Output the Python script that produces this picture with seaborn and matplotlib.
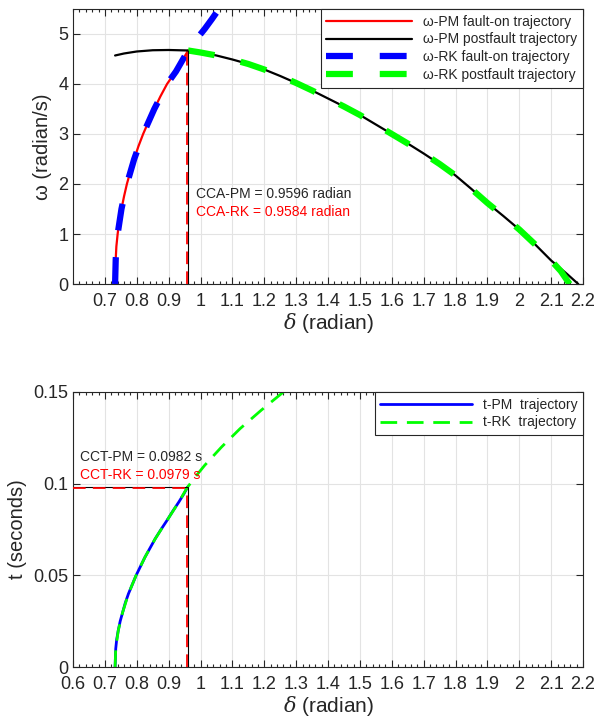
import numpy as np
import pandas as pd
import seaborn as sns
import matplotlib.pyplot as plt
from matplotlib.ticker import MultipleLocator

# --- data ---
# omega-delta plane, PM fault-on trajectory (red)
d_pm_fault = [0.732, 0.733, 0.734, 0.736, 0.740, 0.745, 0.752, 0.760, 0.769, 0.780,
              0.792, 0.805, 0.820, 0.837, 0.855, 0.874, 0.895, 0.908, 0.923, 0.941, 0.961]
w_pm_fault = [0.0, 0.25, 0.5, 0.75, 1.0, 1.25, 1.5, 1.75, 2.0, 2.25,
              2.5, 2.75, 3.0, 3.25, 3.5, 3.75, 4.0, 4.12, 4.25, 4.45, 4.67]

# PM postfault trajectory (black)
d_pm_post = [0.732, 0.76, 0.80, 0.85, 0.90, 0.961, 1.0, 1.05, 1.1, 1.15, 1.2, 1.25,
             1.3, 1.35, 1.4, 1.45, 1.5, 1.55, 1.6, 1.65, 1.7, 1.75, 1.8, 1.85,
             1.9, 1.95, 2.0, 2.05, 2.1, 2.15, 2.185]
w_pm_post = [4.57, 4.61, 4.65, 4.675, 4.68, 4.67, 4.63, 4.57, 4.49, 4.40, 4.29, 4.16,
             4.02, 3.87, 3.71, 3.55, 3.38, 3.19, 3.0, 2.81, 2.61, 2.40, 2.17, 1.90,
             1.62, 1.36, 1.09, 0.79, 0.47, 0.20, 0.0]

# RK fault-on trajectory (blue, runs on past the clearing angle)
d_rk_fault = [0.732, 0.734, 0.740, 0.752, 0.769, 0.792, 0.820, 0.855, 0.895, 0.923,
              0.961, 0.985, 1.013, 1.036, 1.06]
w_rk_fault = [0.0, 0.5, 1.0, 1.5, 2.0, 2.5, 3.0, 3.5, 4.0, 4.25,
              4.67, 4.88, 5.10, 5.30, 5.52]

# RK postfault trajectory (green)
d_rk_post = [0.961, 1.0, 1.05, 1.1, 1.15, 1.2, 1.25, 1.3, 1.35, 1.4, 1.45, 1.5,
             1.55, 1.6, 1.65, 1.7, 1.75, 1.8, 1.85, 1.9, 1.95, 2.0, 2.05, 2.1,
             2.13, 2.158]
w_rk_post = [4.67, 4.63, 4.57, 4.49, 4.40, 4.29, 4.16, 4.02, 3.87, 3.71, 3.55, 3.38,
             3.19, 3.0, 2.81, 2.61, 2.40, 2.17, 1.90, 1.62, 1.36, 1.09, 0.79, 0.47,
             0.26, 0.0]

# t-delta plane
d_t_pm = [0.732, 0.733, 0.734, 0.737, 0.742, 0.748, 0.756, 0.764, 0.774, 0.786,
          0.798, 0.812, 0.826, 0.842, 0.858, 0.876, 0.895, 0.913, 0.932, 0.948, 0.9596]
t_pm = [0.0, 0.005, 0.01, 0.015, 0.02, 0.025, 0.03, 0.035, 0.04, 0.045,
        0.05, 0.055, 0.06, 0.065, 0.07, 0.075, 0.08, 0.085, 0.09, 0.0945, 0.0982]
d_t_rk = [0.732, 0.734, 0.742, 0.756, 0.774, 0.798, 0.826, 0.858, 0.895, 0.932,
          0.9584, 0.985, 1.013, 1.066, 1.124, 1.19, 1.26]
t_rk = [0.0, 0.01, 0.02, 0.03, 0.04, 0.05, 0.06, 0.07, 0.08, 0.09,
        0.0979, 0.104, 0.11, 0.12, 0.13, 0.14, 0.15]

cca_pm, cca_rk = 0.9596, 0.9584
w_at_cca = 4.67
cct_pm, cct_rk = 0.0982, 0.0979

top_xticks = [0.7, 0.8, 0.9, 1.0, 1.1, 1.2, 1.3, 1.4, 1.5, 1.6, 1.7, 1.8, 1.9, 2.0, 2.1, 2.2]
top_xlabels = ["0.7", "0.8", "0.9", "1", "1.1", "1.2", "1.3", "1.4", "1.5", "1.6",
               "1.7", "1.8", "1.9", "2", "2.1", "2.2"]
bot_xticks = [0.6] + top_xticks
bot_xlabels = ["0.6"] + top_xlabels
top_yticks = [0, 1, 2, 3, 4, 5]
bot_yticks = [0, 0.05, 0.1, 0.15]
bot_ylabels = ["0", "0.05", "0.1", "0.15"]

# --- style ---
sns.set_style("ticks")
plt.rcParams['font.family'] = ['Liberation Sans', 'DejaVu Sans']
plt.rcParams['mathtext.fontset'] = 'dejavuserif'
grey = '#262626'

fig = plt.figure(figsize=(5.97, 7.19), dpi=100)
ax1 = fig.add_axes([0.1223, 0.605, 0.8543, 0.3825])
ax2 = fig.add_axes([0.1223, 0.0723, 0.8543, 0.3825])


def style_axes(ax):
    ax.xaxis.set_minor_locator(MultipleLocator(0.02))
    ax.tick_params(which='both', direction='in', top=True, right=True,
                   colors=grey, labelsize=13, width=0.8)
    ax.tick_params(which='major', length=5)
    ax.tick_params(which='minor', length=2.5)
    ax.tick_params(axis='x', which='major', pad=6.5)
    ax.tick_params(axis='y', which='minor', left=False, right=False)
    ax.grid(True, which='major', color='#e3e3e3', lw=0.8)
    ax.set_axisbelow(True)
    for sp in ax.spines.values():
        sp.set_color(grey)
        sp.set_linewidth(0.8)


# --- top panel: omega vs delta ---
sns.lineplot(x=d_pm_fault, y=w_pm_fault, sort=False, estimator=None, ax=ax1,
             color='red', lw=1.6, label='ω-PM fault-on trajectory')
sns.lineplot(x=d_pm_post, y=w_pm_post, sort=False, estimator=None, ax=ax1,
             color='black', lw=1.6, label='ω-PM postfault trajectory')
sns.lineplot(x=d_rk_fault, y=w_rk_fault, sort=False, estimator=None, ax=ax1,
             color='blue', lw=4.5, linestyle=(0, (4.3, 4.3)),
             label='ω-RK fault-on trajectory')
sns.lineplot(x=d_rk_post, y=w_rk_post, sort=False, estimator=None, ax=ax1,
             color='#00ff00', lw=4.5, linestyle=(0, (4.3, 4.3)),
             label='ω-RK postfault trajectory')
ax1.vlines(cca_pm, 0, w_at_cca, color='black', lw=0.8, zorder=3)
ax1.vlines(cca_rk, 0, w_at_cca, color='red', lw=1.3, linestyles=(0, (7, 4)), zorder=3)
ax1.text(0.986, 1.80, f'CCA-PM = {cca_pm:.4f} radian', color=grey, fontsize=10, va='center')
ax1.text(0.986, 1.45, f'CCA-RK = {cca_rk:.4f} radian', color='red', fontsize=10, va='center')

ax1.set_xlim(0.6, 2.2)
ax1.set_ylim(0, 5.5)
ax1.set_xticks(top_xticks)
ax1.set_xticklabels(top_xlabels)
ax1.set_yticks(top_yticks)
style_axes(ax1)
ax1.set_xlabel(r'$\delta$ (radian)', fontsize=15, color=grey, labelpad=1)
ax1.set_ylabel('ω (radian/s)', fontsize=14.5, color=grey)
leg1 = ax1.legend(loc='upper right', borderaxespad=0, fontsize=10, handlelength=6.2,
                  labelspacing=0.28, fancybox=False, framealpha=1, edgecolor=grey)
leg1.get_frame().set_linewidth(0.8)

# --- bottom panel: t vs delta ---
sns.lineplot(x=d_t_pm, y=t_pm, sort=False, estimator=None, ax=ax2,
             color='blue', lw=2, label='t-PM  trajectory')
sns.lineplot(x=d_t_rk, y=t_rk, sort=False, estimator=None, ax=ax2,
             color='#00ff00', lw=2, linestyle=(0, (6, 3.5)), label='t-RK  trajectory')
ax2.vlines(cca_pm, 0, cct_pm, color='black', lw=0.8, zorder=3)
ax2.hlines(cct_pm, 0.6, cca_pm, color='black', lw=0.8, zorder=3)
ax2.vlines(cca_rk, 0, cct_rk, color='red', lw=1.3, linestyles=(0, (7, 4)), zorder=3)
ax2.hlines(cct_rk, 0.6, cca_rk, color='red', lw=1.3, linestyles=(0, (7, 4)), zorder=3)
ax2.text(0.622, 0.1143, f'CCT-PM = {cct_pm:.4f} s', color=grey, fontsize=10, va='center')
ax2.text(0.622, 0.1047, f'CCT-RK = {cct_rk:.4f} s', color='red', fontsize=10, va='center')

ax2.set_xlim(0.6, 2.2)
ax2.set_ylim(0, 0.15)
ax2.set_xticks(bot_xticks)
ax2.set_xticklabels(bot_xlabels)
ax2.set_yticks(bot_yticks)
ax2.set_yticklabels(bot_ylabels)
style_axes(ax2)
ax2.set_xlabel(r'$\delta$ (radian)', fontsize=15, color=grey, labelpad=1)
ax2.set_ylabel('t (seconds)', fontsize=14.5, color=grey)
leg2 = ax2.legend(loc='upper right', borderaxespad=0, fontsize=10, handlelength=6.6,
                  labelspacing=0.28, fancybox=False, framealpha=1, edgecolor=grey)
leg2.get_frame().set_linewidth(0.8)

fig.savefig('out.png', dpi=100)
